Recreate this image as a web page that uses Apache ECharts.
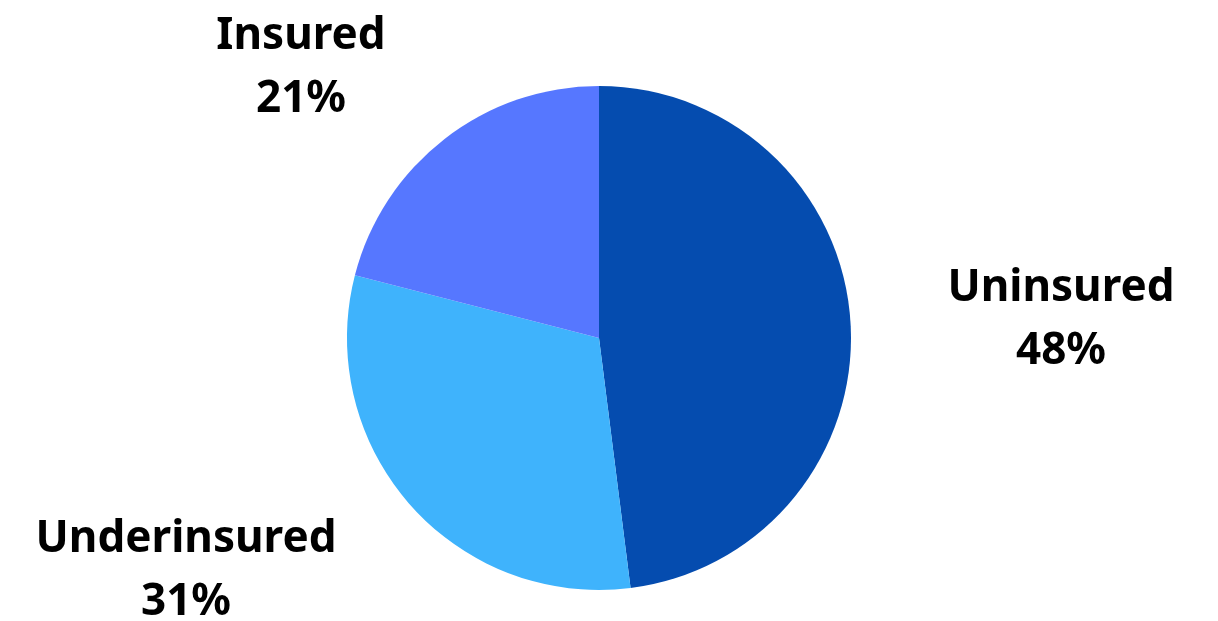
<!DOCTYPE html>
<html>
<head>
<meta charset="utf-8">
<script src="https://cdn.jsdelivr.net/npm/echarts@6/dist/echarts.min.js"></script>
<style>
html,body{margin:0;padding:0;background:#fff;}
#chart{width:1218px;height:621px;}
</style>
</head>
<body>
<div id="chart"></div>
<script>
var categories = ['Uninsured', 'Underinsured', 'Insured'];
var values = [48, 31, 21];
var colors = ['#054CAF', '#3FB3FC', '#5677FF'];

var labelPos = {
  Uninsured: [1061, 320],
  Underinsured: [186, 571],
  Insured: [301, 68]
};

var chart = echarts.init(document.getElementById('chart'), null, {renderer: 'canvas'});
chart.setOption({
  animation: false,
  series: [{
    type: 'pie',
    center: [599, 338],
    radius: [0, 252],
    startAngle: 90,
    clockwise: true,
    data: categories.map(function (c, i) {
      return {name: c, value: values[i], itemStyle: {color: colors[i]}};
    }),
    itemStyle: {borderWidth: 0},
    label: {
      show: true,
      position: 'outside',
      formatter: '{b}\n{d}%',
      fontFamily: 'Noto Sans',
      fontWeight: 'bold',
      fontSize: 44,
      lineHeight: 63,
      color: '#000',
      align: 'center'
    },
    labelLine: {show: false},
    labelLayout: function (params) {
      var p = labelPos[categories[params.dataIndex]];
      return {x: p[0], y: p[1], align: 'center', verticalAlign: 'middle'};
    }
  }]
});
</script>
</body>
</html>
